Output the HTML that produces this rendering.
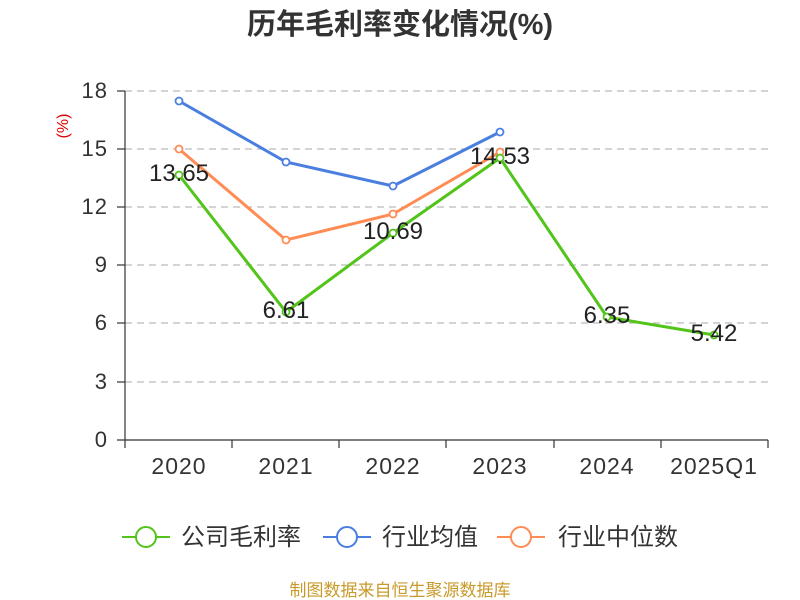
<!DOCTYPE html>
<html><head><meta charset="utf-8"><style>
body{margin:0;background:#fff;}
svg{display:block;font-family:"Liberation Sans","Noto Sans CJK SC",sans-serif;}
</style></head><body>
<svg width="800" height="600" xmlns="http://www.w3.org/2000/svg">
<text x="400" y="34" text-anchor="middle" font-size="29" font-weight="bold" fill="#333">历年毛利率变化情况(%)</text>
<text x="68" y="126" transform="rotate(-90 68 126)" text-anchor="middle" font-size="16" fill="#e00000">(%)</text>
<g stroke="#bbb" stroke-dasharray="7,5" stroke-width="1.2">
<line x1="125" x2="768" y1="91" y2="91"/><line x1="125" x2="768" y1="149" y2="149"/>
<line x1="125" x2="768" y1="207" y2="207"/><line x1="125" x2="768" y1="265" y2="265"/>
<line x1="125" x2="768" y1="323" y2="323"/><line x1="125" x2="768" y1="382" y2="382"/>
</g>
<g stroke="#333" stroke-width="1.2">
<line x1="125" x2="125" y1="91" y2="440"/><line x1="125" x2="768" y1="440" y2="440"/>
<line x1="117" x2="125" y1="91" y2="91"/><line x1="117" x2="125" y1="149" y2="149"/>
<line x1="117" x2="125" y1="207" y2="207"/><line x1="117" x2="125" y1="265" y2="265"/>
<line x1="117" x2="125" y1="323" y2="323"/><line x1="117" x2="125" y1="382" y2="382"/>
<line x1="117" x2="125" y1="440" y2="440"/>
<line x1="125" x2="125" y1="440" y2="448"/><line x1="232" x2="232" y1="440" y2="448"/>
<line x1="339" x2="339" y1="440" y2="448"/><line x1="446" x2="446" y1="440" y2="448"/>
<line x1="554" x2="554" y1="440" y2="448"/><line x1="661" x2="661" y1="440" y2="448"/>
<line x1="768" x2="768" y1="440" y2="448"/>
</g>
<g font-size="22" fill="#333" text-anchor="end" letter-spacing="1">
<text x="108" y="98">18</text><text x="108" y="156">15</text><text x="108" y="214">12</text>
<text x="108" y="272">9</text><text x="108" y="330">6</text><text x="108" y="389">3</text><text x="108" y="447">0</text>
</g>
<g font-size="23" fill="#333" text-anchor="middle" letter-spacing="1">
<text x="179" y="474">2020</text><text x="286" y="474">2021</text><text x="393" y="474">2022</text>
<text x="500" y="474">2023</text><text x="607" y="474">2024</text><text x="714" y="474">2025Q1</text>
</g>
<polyline fill="none" stroke="#4a7fe0" stroke-width="3" points="179,101 286,162 393,186 500,132"/>
<polyline fill="none" stroke="#ff8c55" stroke-width="3" points="179,149 286,240 393,214 500,152"/>
<polyline fill="none" stroke="#52c41a" stroke-width="3" points="179,175 286,312 393,233 500,158 607,317 714,335"/>
<g fill="#fff" stroke-width="1.8">
<g stroke="#4a7fe0"><circle cx="179" cy="101" r="3.5"/><circle cx="286" cy="162" r="3.5"/><circle cx="393" cy="186" r="3.5"/><circle cx="500" cy="132" r="3.5"/></g>
<g stroke="#ff8c55"><circle cx="179" cy="149" r="3.5"/><circle cx="286" cy="240" r="3.5"/><circle cx="393" cy="214" r="3.5"/><circle cx="500" cy="152" r="3.5"/></g>
<g stroke="#52c41a"><circle cx="179" cy="175" r="3.5"/><circle cx="286" cy="312" r="3.5"/><circle cx="393" cy="233" r="3.5"/><circle cx="500" cy="158" r="3.5"/><circle cx="607" cy="317" r="3.5"/><circle cx="714" cy="335" r="3.5"/></g>
</g>
<g font-size="24" fill="#222" text-anchor="middle">
<text x="179" y="181">13.65</text><text x="286" y="318">6.61</text><text x="393" y="239">10.69</text>
<text x="500" y="164">14.53</text><text x="607" y="323">6.35</text><text x="714" y="341">5.42</text>
</g>
<g stroke-width="2" fill="#fff">
<line x1="122" x2="170" y1="537" y2="537" stroke="#52c41a"/><circle cx="146" cy="537" r="10" stroke="#52c41a"/>
<line x1="323" x2="371" y1="537" y2="537" stroke="#4a7fe0"/><circle cx="347" cy="537" r="10" stroke="#4a7fe0"/>
<line x1="497" x2="545" y1="537" y2="537" stroke="#ff8c55"/><circle cx="521" cy="537" r="10" stroke="#ff8c55"/>
</g>
<g font-size="24" fill="#333">
<text x="181" y="545">公司毛利率</text><text x="382" y="545">行业均值</text><text x="558" y="545">行业中位数</text>
</g>
<text x="400" y="596" text-anchor="middle" font-size="17" fill="#c89a2a">制图数据来自恒生聚源数据库</text>
</svg>
</body></html>
